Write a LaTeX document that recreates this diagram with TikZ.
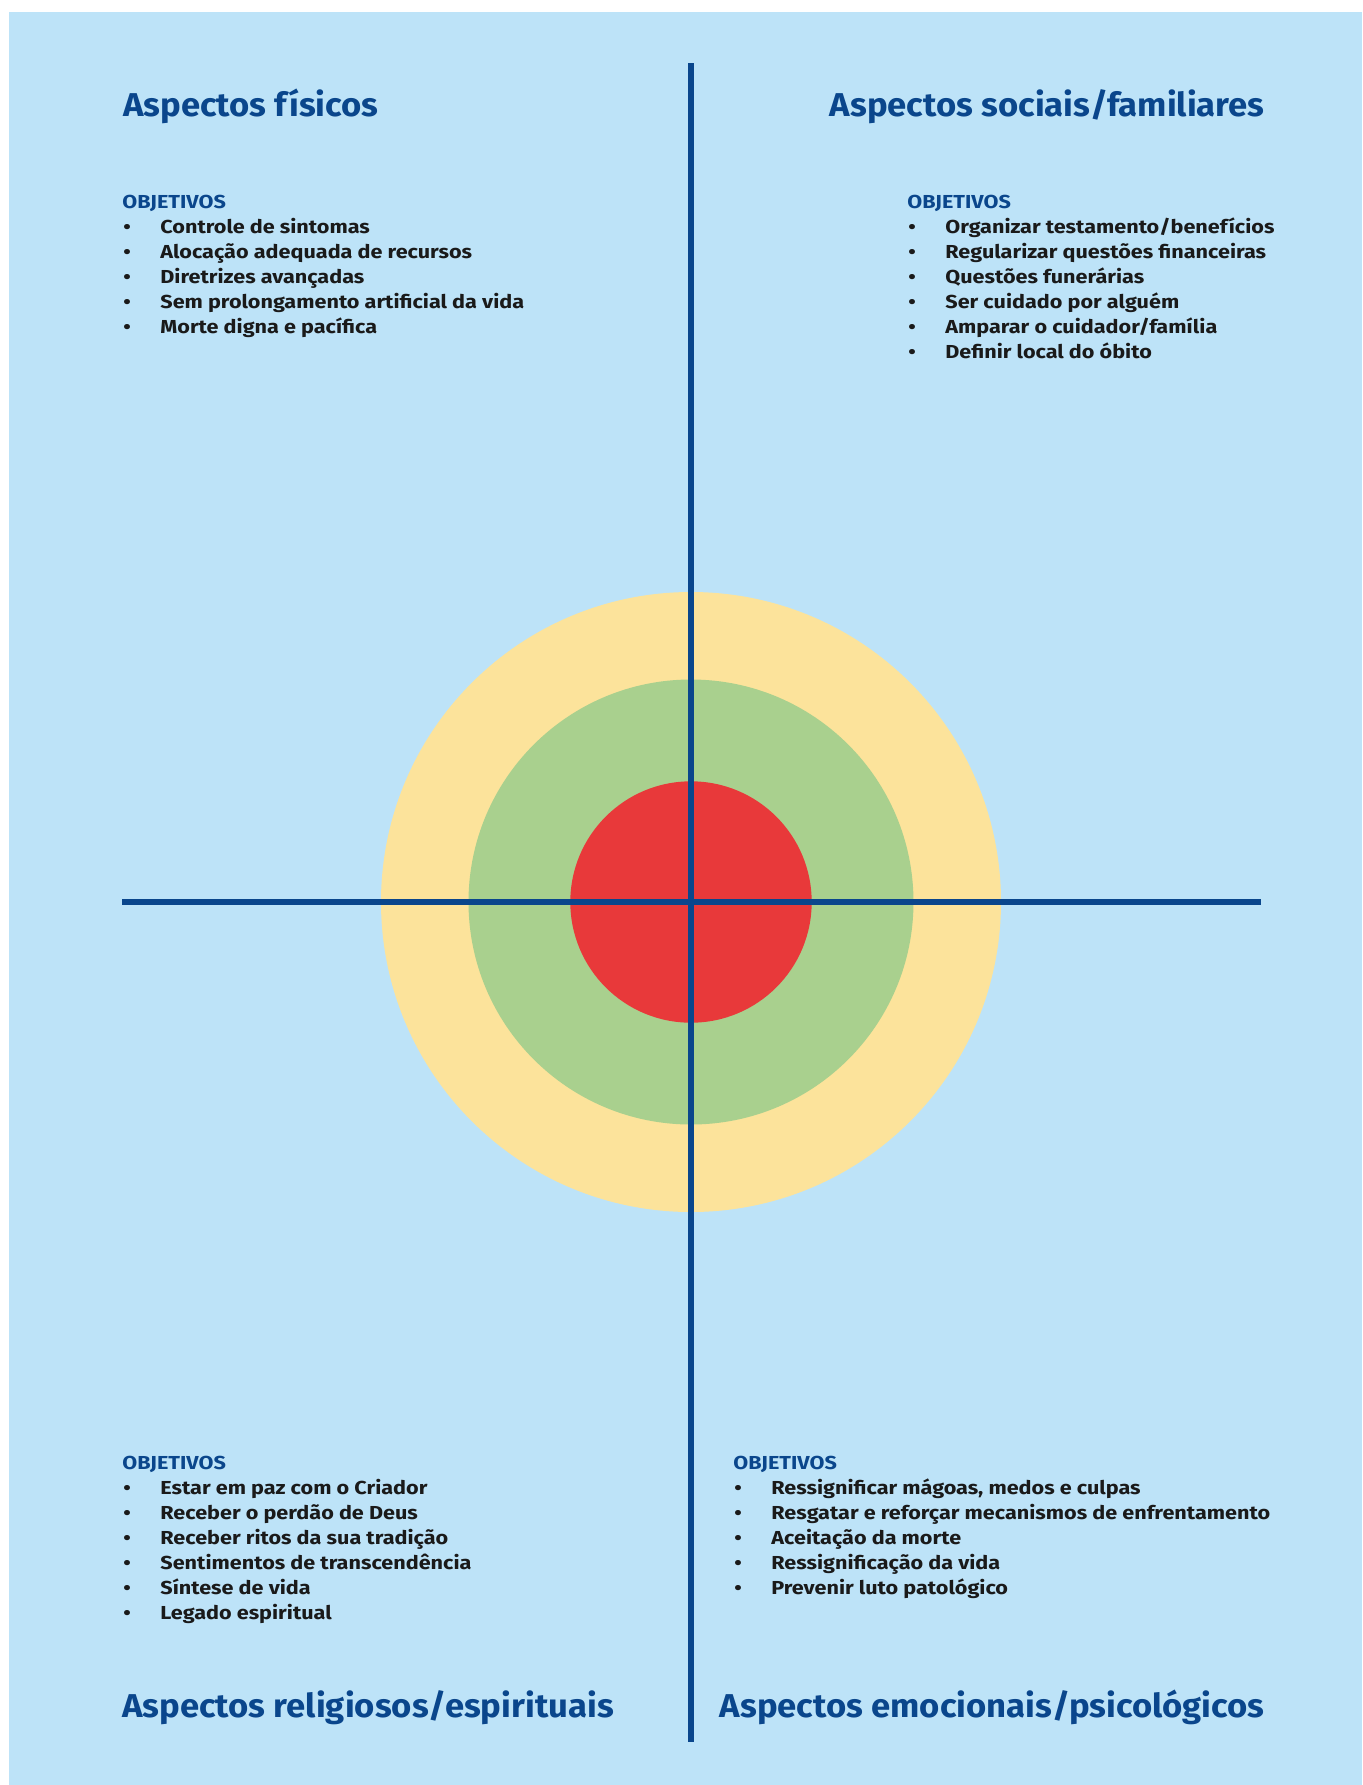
\documentclass[tikz,border=0pt]{standalone}
\usepackage{fontspec}
\setmainfont{Fira Sans}
\newfontfamily\titlefont{Fira Sans}[FakeStretch=1.05]
\newfontfamily\listfont{Fira Sans}[FakeStretch=1.15]
\usepackage{xcolor}
\usetikzlibrary{positioning}
\definecolor{fundo}{RGB}{189,227,248}
\definecolor{azul}{RGB}{10,70,140}
\definecolor{amarelo}{RGB}{252,227,155}
\definecolor{verde}{RGB}{169,208,142}
\definecolor{vermelho}{RGB}{232,57,58}
\definecolor{texto}{RGB}{26,26,26}
\newcommand{\obj}[1]{\makebox[19pt][l]{\hspace{0.5pt}\textbullet}#1}
\newcommand{\objhead}{{\color{azul}OBJETIVOS}}
\tikzset{
    titulo/.style={inner sep=0pt, font=\fontsize{16.5}{20}\titlefont\bfseries, text=azul}, % quadrant titles
    lista/.style={inner sep=0pt, align=left, font=\fontsize{9.4}{12.5}\listfont\bfseries, text=texto}, % goal lists
    eixo/.style={draw=azul, line width=3pt}, % the two axes
}

\begin{document}
\begin{tikzpicture}[x=0.5pt, y=-0.5pt]
    % page and background
    \fill[white] (0,0) rectangle (1362,1785);
    \fill[fundo] (9,12) rectangle (1362,1785);

    % target
    \coordinate (centro) at (691,902);
    \fill[amarelo] (centro) circle[radius=310];
    \fill[verde] (centro) circle[radius=222.5];
    \fill[vermelho] (centro) circle[radius=120.7];

    % axes
    \coordinate (topo) at (691,63);
    \coordinate (base) at (691,1742);
    \coordinate (esq) at (122,902);
    \coordinate (dir) at (1261,902);
    \draw[eixo] (topo) -- (base);
    \draw[eixo] (esq) -- (dir);

    % titles
    \node[titulo, anchor=base west] (fisicos) at (123,116) {Aspectos físicos};
    \node[titulo, anchor=base east] (sociais) at (1265,116) {Aspectos sociais/familiares};
    \node[titulo, anchor=base west] (religiosos) at (122,1717) {Aspectos religiosos/espirituais};
    \node[titulo, anchor=base east] (emocionais) at (1265,1717) {Aspectos emocionais/psicológicos};

    % goals
    \node[lista, anchor=north west] (objfisicos) at (122,195) {\objhead\\
        \obj{Controle de sintomas}\\
        \obj{Alocação adequada de recursos}\\
        \obj{Diretrizes avançadas}\\
        \obj{Sem prolongamento artificial da vida}\\
        \obj{Morte digna e pacífica}};
    \node[lista, anchor=north west] (objsociais) at (907,195) {\objhead\\
        \obj{Organizar testamento/benefícios}\\
        \obj{Regularizar questões financeiras}\\
        \obj{Questões funerárias}\\
        \obj{Ser cuidado por alguém}\\
        \obj{Amparar o cuidador/família}\\
        \obj{Definir local do óbito}};
    \node[lista, anchor=north west] (objreligiosos) at (122,1456) {\objhead\\
        \obj{Estar em paz com o Criador}\\
        \obj{Receber o perdão de Deus}\\
        \obj{Receber ritos da sua tradição}\\
        \obj{Sentimentos de transcendência}\\
        \obj{Síntese de vida}\\
        \obj{Legado espiritual}};
    \node[lista, anchor=north west] (objemocionais) at (733,1456) {\objhead\\
        \obj{Ressignificar mágoas, medos e culpas}\\
        \obj{Resgatar e reforçar mecanismos de enfrentamento}\\
        \obj{Aceitação da morte}\\
        \obj{Ressignificação da vida}\\
        \obj{Prevenir luto patológico}};
\end{tikzpicture}
\end{document}
